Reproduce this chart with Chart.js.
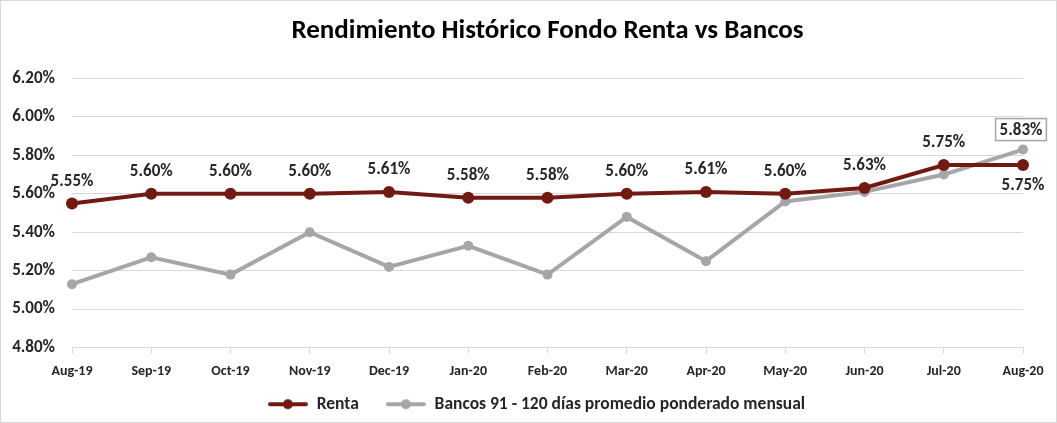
<!DOCTYPE html>
<html>
<head>
<meta charset="utf-8">
<script src="https://cdn.jsdelivr.net/npm/chart.js@4/dist/chart.umd.min.js"></script>
<style>
  html, body { margin: 0; padding: 0; background: #fff; }
  #wrap { width: 1057px; height: 423px; position: relative; }
</style>
</head>
<body>
<div id="wrap"><canvas id="rendimientoChart" width="1057" height="423"></canvas></div>
<script>
// Rendimiento histórico: Fondo Renta vs Bancos
const meses = ['Aug-19', 'Sep-19', 'Oct-19', 'Nov-19', 'Dec-19', 'Jan-20', 'Feb-20', 'Mar-20', 'Apr-20', 'May-20', 'Jun-20', 'Jul-20', 'Aug-20'];
const renta = [5.55, 5.60, 5.60, 5.60, 5.61, 5.58, 5.58, 5.60, 5.61, 5.60, 5.63, 5.75, 5.75];
const bancos = [5.13, 5.27, 5.18, 5.40, 5.22, 5.33, 5.18, 5.48, 5.25, 5.56, 5.61, 5.70, 5.83];
const yMin = 4.8, yMax = 6.2, yPaso = 0.2;

const FONT = 'Carlito, Lato, "Open Sans", sans-serif';
const ROJO = '#701a12';
const GRIS = '#a6a6a6';
const TEXTO = '#262626';

// icono de leyenda: linea con punto (con margen a la izquierda para separar items)
function iconoLeyenda(color, r) {
  const c = document.createElement('canvas');
  c.width = 60; c.height = 14;
  const g = c.getContext('2d');
  g.strokeStyle = color; g.lineWidth = 4; g.lineCap = 'round';
  g.beginPath(); g.moveTo(22, 7); g.lineTo(58, 7); g.stroke();
  g.fillStyle = color;
  g.beginPath(); g.arc(40, 7, r, 0, Math.PI * 2); g.fill();
  return c;
}
const iconos = [iconoLeyenda(ROJO, 5), iconoLeyenda(GRIS, 5)];

const pct = v => v.toFixed(2) + '%';

// etiquetas de datos (sin plugin externo)
const etiquetas = {
  id: 'etiquetas',
  afterDatasetsDraw(chart) {
    const ctx = chart.ctx;
    ctx.save();
    ctx.font = 'bold 17px ' + FONT;
    ctx.textAlign = 'center';
    ctx.textBaseline = 'middle';
    ctx.fillStyle = TEXTO;
    const m0 = chart.getDatasetMeta(0);
    m0.data.forEach((p, i) => {
      const ultimo = i === renta.length - 1;
      ctx.fillText(pct(renta[i]), p.x, ultimo ? p.y + 21 : p.y - 22);
    });
    // solo el ultimo valor de bancos, en recuadro
    const m1 = chart.getDatasetMeta(1);
    const k = bancos.length - 1;
    const p = m1.data[k];
    const txt = pct(bancos[k]);
    const w = ctx.measureText(txt).width + 8;
    const cx = p.x - 2, cy = p.y - 20;
    ctx.fillStyle = '#fff';
    ctx.fillRect(cx - w / 2, cy - 11, w, 22);
    ctx.strokeStyle = GRIS; ctx.lineWidth = 1.5;
    ctx.strokeRect(cx - w / 2, cy - 11, w, 22);
    ctx.fillStyle = TEXTO;
    ctx.fillText(txt, cx, cy + 1);
    ctx.restore();
  }
};

// marco exterior + leyenda algo corrida a la derecha como en el original
const marco = {
  id: 'marco',
  afterLayout(chart) {
    chart.legend.left += 15;
    chart.legend.right += 15;
  },
  afterDraw(chart) {
    const ctx = chart.ctx;
    ctx.save();
    ctx.strokeStyle = '#d9d9d9'; ctx.lineWidth = 1;
    ctx.strokeRect(0.5, 0.5, chart.width - 1, chart.height - 1);
    ctx.restore();
  }
};

const ctx = document.getElementById('rendimientoChart').getContext('2d');
new Chart(ctx, {
  type: 'line',
  data: {
    labels: meses,
    datasets: [{
      label: 'Renta',
      data: renta,
      borderColor: ROJO,
      backgroundColor: ROJO,
      borderWidth: 4,
      pointRadius: 6,
      pointBorderWidth: 0,
      pointHoverRadius: 6,
      tension: 0,
      order: 1
    }, {
      label: 'Bancos 91 - 120 días promedio ponderado mensual',
      data: bancos,
      borderColor: GRIS,
      backgroundColor: GRIS,
      borderWidth: 4,
      pointRadius: 5,
      pointBorderWidth: 0,
      pointHoverRadius: 5,
      tension: 0,
      order: 2
    }]
  },
  options: {
    responsive: false,
    animation: false,
    layout: { padding: { left: 0, right: 34, top: 8, bottom: 0 } },
    plugins: {
      title: {
        display: true,
        fullSize: false,
        text: 'Rendimiento Histórico Fondo Renta vs Bancos',
        color: '#000',
        font: { family: FONT, size: 27, weight: 'bold' },
        padding: { top: 7, bottom: 31 }
      },
      legend: {
        position: 'bottom',
        labels: {
          usePointStyle: true,
          pointStyleWidth: 60,
          boxHeight: 14,
          padding: 7,
          color: TEXTO,
          font: { family: FONT, size: 17.5, weight: 'bold' },
          generateLabels: chart => Chart.defaults.plugins.legend.labels.generateLabels(chart)
            .map((l, i) => Object.assign(l, { pointStyle: iconos[i] }))
        }
      },
      tooltip: { enabled: false }
    },
    scales: {
      x: {
        offset: false,
        grid: { drawOnChartArea: false, drawTicks: true, tickLength: 6, color: '#d9d9d9' },
        border: { display: true, color: '#d9d9d9' },
        ticks: { color: TEXTO, maxRotation: 0, padding: 9, font: { family: FONT, size: 14, weight: 'bold' } }
      },
      y: {
        min: yMin,
        max: yMax,
        afterFit: s => { s.width = 72; },
        grid: { color: '#d9d9d9', drawTicks: false },
        border: { display: false },
        ticks: {
          stepSize: yPaso,
          padding: 17,
          color: TEXTO,
          font: { family: FONT, size: 17, weight: 'bold' },
          callback: v => v.toFixed(2) + '%'
        }
      }
    }
  },
  plugins: [etiquetas, marco]
});
</script>
</body>
</html>
